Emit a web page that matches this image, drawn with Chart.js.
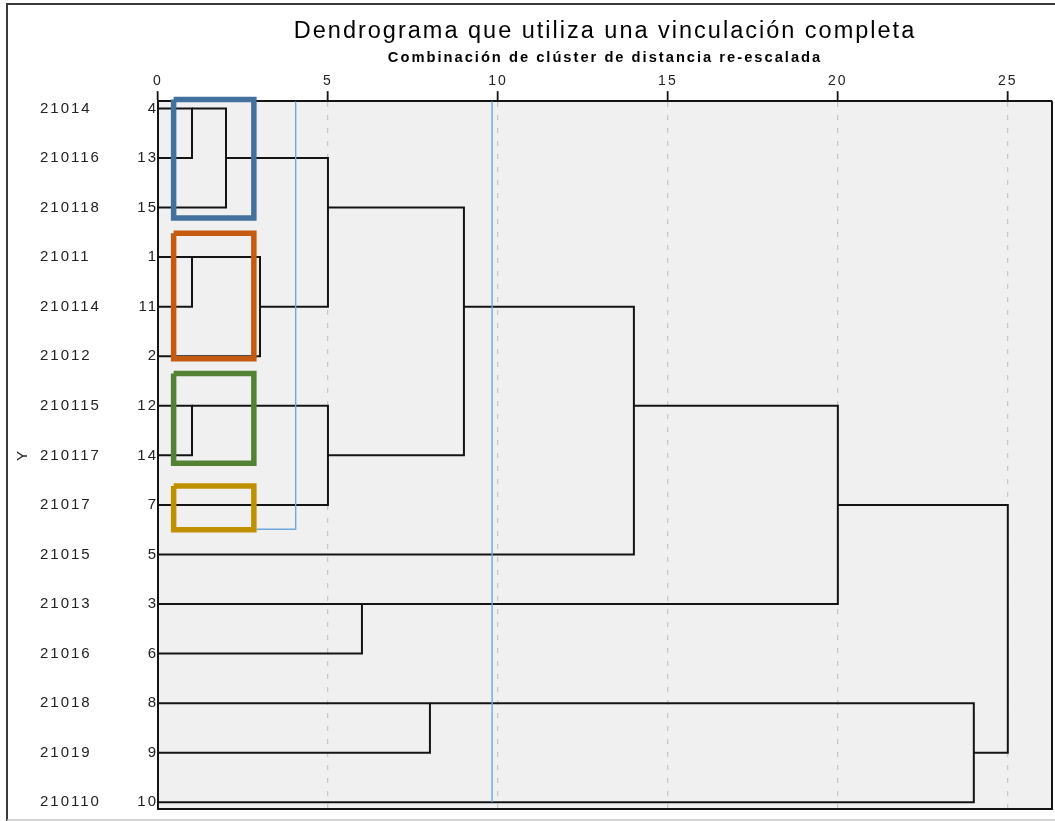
<!DOCTYPE html>
<html>
<head>
<meta charset="utf-8">
<title>Dendrograma</title>
<script src="https://cdn.jsdelivr.net/npm/chart.js@4.4.0/dist/chart.umd.min.js"></script>
<style>
    html, body { margin: 0; padding: 0; background: #fff; }
</style>
</head>
<body>
<canvas id="dendroChart" width="1055" height="821"></canvas>
<script>
// Leaf order, top to bottom
const caseNumbers = [4, 13, 15, 1, 11, 2, 12, 14, 7, 5, 3, 6, 8, 9, 10];
const caseIds = ['21014', '210116', '210118', '21011', '210114', '21012', '210115',
    '210117', '21017', '21015', '21013', '21016', '21018', '21019', '210110'];
const xTicks = [0, 5, 10, 15, 20, 25];

// Merges: a child is a leaf row (number) or an earlier merge ('m' + index)
const mergeA = [0, 'm0', 3, 'm2', 'm1', 6, 'm5', 'm4', 'm7', 10, 'm8', 12, 'm11', 'm10'];
const mergeB = [1, 2, 4, 5, 'm3', 7, 8, 'm6', 9, 11, 'm9', 13, 14, 'm12'];
const mergeDist = [1, 2, 1, 3, 5, 1, 5, 9, 14, 6, 20, 8, 24, 25];

// Hand-drawn marks on the picture (distance / row units)
const boxX = [[0.46, 2.82], [0.46, 2.82], [0.46, 2.82], [0.46, 2.82]];
const boxY = [[-0.18, 2.21], [2.52, 5.05], [5.35, 7.16], [7.62, 8.50]];
const boxColors = ['#41719c', '#c55a11', '#548235', '#bf9000'];
const cutLineX = [9.83, 9.83];
const cutLineY = [-0.147, 14.0];
const hookX = [4.05, 4.05, 2.9];
const hookY = [-0.147, 8.49, 8.49];

const Y_MIN = -0.147;
const Y_MAX = 14.135;
const FONT = "'Liberation Sans', Arial, sans-serif";

// Build the dendrogram polylines (SPSS style: cluster sits on the middle row)
const rep = [];
const links = [];
function nodeOf(c) {
    if (typeof c === 'number') return { row: c, h: 0 };
    const k = +c.slice(1);
    return { row: rep[k], h: mergeDist[k] };
}
mergeA.forEach((a, i) => {
    const A = nodeOf(a);
    const B = nodeOf(mergeB[i]);
    const d = mergeDist[i];
    links.push([
        { x: A.h, y: A.row }, { x: d, y: A.row },
        { x: d, y: B.row }, { x: B.h, y: B.row }
    ]);
    rep[i] = Math.floor((A.row + B.row) / 2);
});

const datasets = [];
boxX.forEach((bx, i) => {
    const by = boxY[i];
    datasets.push({
        data: [
            { x: bx[0], y: by[0] }, { x: bx[1], y: by[0] }, { x: bx[1], y: by[1] },
            { x: bx[0], y: by[1] }, { x: bx[0], y: by[0] }
        ],
        borderColor: boxColors[i], borderWidth: 5.5, borderJoinStyle: 'miter',
        clip: false, order: 0
    });
});
datasets.push({
    data: cutLineX.map((x, i) => ({ x: x, y: cutLineY[i] })),
    borderColor: '#6fa8dc', borderWidth: 1.4, order: 1
});
datasets.push({
    data: hookX.map((x, i) => ({ x: x, y: hookY[i] })),
    borderColor: '#6fa8dc', borderWidth: 1.4, order: 1
});
links.forEach(pts => {
    datasets.push({ data: pts, borderColor: '#141414', borderWidth: 2, order: 2 });
});

// The original's text is slightly letter-spaced
function spaceLetters(chart) {
    chart.ctx.letterSpacing = '2px';
}

// Background, frame and plot border
const framePlugin = {
    id: 'framePlugin',
    beforeLayout: spaceLetters,
    beforeDraw(chart) {
        const { ctx, chartArea: a } = chart;
        spaceLetters(chart);
        ctx.save();
        ctx.fillStyle = '#fff';
        ctx.fillRect(0, 0, chart.width, chart.height);
        ctx.fillStyle = '#f0f0f0';
        ctx.fillRect(a.left, a.top, a.right - a.left, a.bottom - a.top);
        ctx.strokeStyle = '#3a3a3a';
        ctx.lineWidth = 2;
        ctx.beginPath();
        ctx.moveTo(7, chart.height);
        ctx.lineTo(7, 4);
        ctx.lineTo(chart.width, 4);
        ctx.stroke();
        ctx.strokeStyle = '#c4c4c4';
        ctx.lineWidth = 1.5;
        ctx.beginPath();
        ctx.moveTo(7, 820);
        ctx.lineTo(chart.width, 820);
        ctx.stroke();
        ctx.restore();
    },
    beforeDatasetsDraw(chart) {
        const { ctx, chartArea: a } = chart;
        ctx.save();
        ctx.strokeStyle = '#141414';
        ctx.lineWidth = 2;
        ctx.beginPath();
        ctx.moveTo(a.left, a.bottom);
        ctx.lineTo(a.right, a.bottom);
        ctx.lineTo(a.right, a.top);
        ctx.stroke();
        ctx.restore();
    }
};

function rowTicks(scale) {
    scale.ticks = caseNumbers.map((c, i) => ({ value: i }));
}

const ctx = document.getElementById('dendroChart').getContext('2d');
const dendroChart = new Chart(ctx, {
    type: 'scatter',
    data: { datasets: datasets },
    options: {
        responsive: false,
        animation: false,
        showLine: true,
        elements: {
            point: { radius: 0, hoverRadius: 0 },
            line: { tension: 0, fill: false }
        },
        layout: { padding: { left: 8, right: 3, top: 0, bottom: 10.3 } },
        plugins: {
            legend: { display: false },
            tooltip: { enabled: false },
            title: {
                display: true,
                text: 'Dendrograma que utiliza una vinculación completa',
                font: { family: FONT, size: 23.5, weight: 'normal' },
                color: '#000',
                fullSize: false,
                padding: { top: 17, bottom: 0 }
            },
            subtitle: {
                display: true,
                text: 'Combinación de clúster de distancia re-escalada',
                font: { family: FONT, size: 14.7, weight: 'bold' },
                color: '#000',
                fullSize: false,
                padding: { top: 4, bottom: 3.5 }
            }
        },
        scales: {
            x: {
                type: 'linear',
                position: 'top',
                min: 0,
                max: 26.3,
                afterBuildTicks: s => { s.ticks = xTicks.map(v => ({ value: v })); },
                ticks: { font: { family: FONT, size: 14 }, color: '#222', padding: 2 },
                grid: {
                    color: c => (c.tick && c.tick.value === 0) ? 'rgba(0,0,0,0)' : '#c8c8c8',
                    lineWidth: 1.3,
                    tickColor: '#141414',
                    tickLength: 10,
                    tickWidth: 1.8,
                    tickBorderDash: []
                },
                border: { color: '#141414', width: 2, dash: [5, 8] }
            },
            y: {
                type: 'linear',
                position: 'left',
                reverse: true,
                min: Y_MIN,
                max: Y_MAX,
                weight: 0,
                afterBuildTicks: rowTicks,
                afterFit: s => { s.width = 40; },
                ticks: {
                    callback: v => caseNumbers[v],
                    font: { family: FONT, size: 15 },
                    color: '#222',
                    padding: 0
                },
                grid: { display: false, drawTicks: false, tickLength: 0 },
                border: { color: '#141414', width: 2 }
            },
            yId: {
                type: 'linear',
                position: 'left',
                reverse: true,
                min: Y_MIN,
                max: Y_MAX,
                weight: 1,
                afterBuildTicks: rowTicks,
                afterFit: s => { s.width = 78; },
                ticks: {
                    callback: v => caseIds[v],
                    crossAlign: 'far',
                    font: { family: FONT, size: 15 },
                    color: '#222'
                },
                grid: { display: false, drawTicks: false, tickLength: 0 },
                border: { display: false }
            },
            yTitle: {
                type: 'linear',
                position: 'left',
                min: Y_MIN,
                max: Y_MAX,
                weight: 2,
                afterFit: s => { s.width = 32; },
                ticks: { display: false },
                grid: { display: false, drawTicks: false },
                border: { display: false },
                title: {
                    display: true,
                    text: 'Y',
                    font: { family: FONT, size: 15 },
                    color: '#222',
                    padding: { top: 6, bottom: 0 }
                }
            }
        }
    },
    plugins: [framePlugin]
});
</script>
</body>
</html>
